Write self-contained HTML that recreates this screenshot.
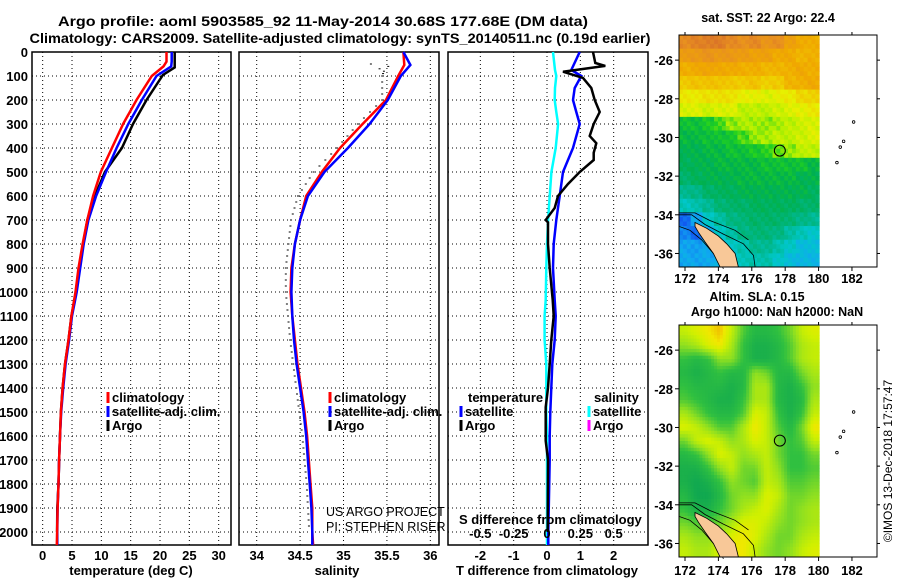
<!DOCTYPE html>
<html><head><meta charset="utf-8"><style>
body{margin:0;background:#fff}
svg{display:block;font-family:"Liberation Sans",Arial,sans-serif}
.b{font-weight:bold}
</style></head><body>
<svg id="s" width="900" height="580" viewBox="0 0 900 580" xmlns="http://www.w3.org/2000/svg">
<rect width="900" height="580" fill="#fff"/>
<text class="b" x="323" y="26" font-size="14" text-anchor="middle" textLength="530" lengthAdjust="spacingAndGlyphs">Argo profile: aoml 5903585_92 11-May-2014 30.68S 177.68E (DM data)</text>
<text class="b" x="340" y="43" font-size="14" text-anchor="middle" textLength="621" lengthAdjust="spacingAndGlyphs">Climatology: CARS2009. Satellite-adjusted climatology: synTS_20140511.nc (0.19d earlier)</text>
<g id="g"></g>
</svg>
<script>
// ---------- data ----------
const tDepth   = [0,40,60,100,200,300,400,500,600,700,800,900,1000,1100,1200,1300,1400,1500,1600,1700,1800,1900,2000,2054];
const tClim    = [21.1,21.1,20.6,18.6,16.0,13.7,11.8,9.9,8.6,7.6,6.8,6.1,5.6,4.9,4.4,3.8,3.4,3.1,2.95,2.8,2.7,2.55,2.45,2.4];
const tSat     = [22.0,22.0,21.9,19.4,16.9,14.6,12.6,10.8,9.1,7.8,7.0,6.4,5.8,5.0,4.5,3.9,3.5,3.15,2.95,2.8,2.7,2.55,2.5,2.5];
const tArgoDepth = [0,64,96,200,300,400,500,600,700,800,900,1000,1100,1200,1300,1400,1500,1600,1700,1800,1900,2000];
const tArgo    = [22.5,22.5,20.5,17.7,15.4,13.5,10.6,8.9,7.6,6.9,6.2,5.7,4.9,4.4,3.8,3.4,3.1,2.95,2.8,2.7,2.5,2.45];

const sDepth   = [0,54,100,200,300,400,500,600,700,800,900,1000,1100,1200,1300,1400,1500,1600,1700,1800,1900,2000,2054];
const sClim    = [35.69,35.70,35.63,35.49,35.22,34.96,34.75,34.57,34.50,34.44,34.40,34.39,34.41,34.44,34.47,34.51,34.55,34.58,34.60,34.62,34.64,34.64,34.65];
const sSat     = [35.69,35.77,35.66,35.51,35.30,35.05,34.78,34.59,34.50,34.44,34.41,34.40,34.41,34.43,34.46,34.50,34.54,34.57,34.59,34.61,34.63,34.64,34.64];
const sArgoDepth = [50,60,70,80,100,200,300,400,500,600,700,800,900,1000,1200,1400,1600,1800,2000];
const sArgo    = [35.35,35.55,35.45,35.50,35.48,35.48,35.20,34.96,34.69,34.51,34.43,34.40,34.37,34.37,34.42,34.49,34.56,34.61,34.64];

const dDepth   = [0,46,58,82,108,150,200,250,300,350,380,420,450,500,550,600,650,700,710,800,900,1033,1100,1200,1300,1400,1480,1620,1700,2000];
const dTArgo   = [1.38,1.45,1.75,0.48,1.08,1.33,1.43,1.58,1.40,1.28,1.48,1.40,1.40,0.98,0.63,0.33,0.23,-0.04,0.03,0.03,0.08,0.17,0.20,0.13,0.08,0.03,-0.04,-0.04,0.03,0.02];
const satDepth = [0,75,100,150,200,250,300,400,500,600,700,800,900,1033,1100,1200,1300,1400,1500,1600,1700,2000,2054];
const dTSat    = [0.98,0.73,1.03,0.83,0.78,0.88,0.98,0.78,0.48,0.38,0.28,0.20,0.18,0.23,0.26,0.23,0.16,0.13,0.10,0.08,0.08,0.04,0.04];
const dSSat    = [0.045,0.06,0.07,0.06,0.058,0.07,0.083,0.065,0.033,0.02,0.008,0,-0.005,-0.01,-0.018,-0.018,-0.005,-0.005,-0.005,0,0,0,0];

const depthTicks = [0,100,200,300,400,500,600,700,800,900,1000,1100,1200,1300,1400,1500,1600,1700,1800,1900,2000];
const tTicks = [0,5,10,15,20,25,30];
const sTicks = [34,34.5,35,35.5,36];
const sTickLabels = ["34","34.5","35","35.5","36"];
const dTicks = [-2,-1,0,1,2];
const dsTickLabels = ["-0.5","-0.25","0","0.25","0.5"];

const sstGrid = [
[24.6,24.7,24.8,24.8,24.6,24.5,24.6,24.4,24.5,24.1,23.9,23.8],
[24.2,24.3,24.4,24.3,24.3,24.2,24.1,24.1,23.9,23.9,23.7,23.8],
[23.8,23.9,24.0,23.9,23.9,23.8,23.8,23.7,23.7,23.8,23.9,23.8],
[23.4,23.5,23.5,23.5,23.4,23.4,23.5,23.3,23.4,23.7,23.8,23.9],
[23.0,23.0,23.1,23.1,23.1,22.9,22.9,22.8,22.9,23.0,23.2,23.3],
[22.8,22.8,22.7,22.8,22.8,22.6,22.6,22.6,22.7,22.8,22.9,23.0],
[21.9,21.9,22.0,22.2,22.4,22.5,22.5,22.4,22.5,22.6,22.7,22.8],
[21.8,21.8,21.9,21.9,22.0,22.2,22.4,22.5,22.6,22.6,22.7,22.8],
[21.7,21.7,21.8,21.8,21.9,21.9,22.0,22.1,22.3,22.4,22.6,22.6],
[21.6,21.7,21.7,21.8,21.8,21.8,21.8,21.9,21.9,21.9,21.9,21.8],
[21.5,21.6,21.7,21.7,21.7,21.8,21.8,21.8,21.8,21.8,21.7,21.7],
[21.2,21.3,21.5,21.6,21.6,21.7,21.7,21.7,21.7,21.7,21.7,21.6],
[20.9,21.0,21.2,21.4,21.5,21.5,21.6,21.6,21.6,21.6,21.5,21.5],
[19.8,20.3,20.8,21.1,21.3,21.4,21.5,21.5,21.5,21.4,21.3,21.2],
[20.0,19.8,20.4,20.8,21.1,21.3,21.4,21.4,21.3,21.1,20.9,20.8],
[20.3,20.2,20.4,20.6,20.8,21.0,21.2,21.2,21.0,20.8,20.6,20.6],
[20.3,20.3,20.3,20.5,20.7,20.9,21.0,21.0,20.8,20.6,20.5,20.5]];
const slaGrid = [
[0.8,0.9,1.0,1.1,0.8,0.4,0.2,0.2,0.3,0.5,0.8,0.9],
[0.6,0.7,0.9,1.0,0.7,0.3,0.1,0.1,0.2,0.4,0.7,0.8],
[0.3,0.2,0.3,0.6,0.6,0.3,0.1,0.1,0.2,0.4,0.7,0.8],
[0.2,0.1,0.2,0.3,0.2,0.2,0.6,0.5,0.2,0.2,0.5,0.7],
[0.3,0.2,0.2,0.2,0.1,0.2,0.7,0.7,0.2,0.1,0.3,0.6],
[0.4,0.3,0.2,0.1,0.1,0.3,0.7,0.7,0.2,0.1,0.2,0.7],
[0.7,0.5,0.3,0.2,0.2,0.4,0.9,0.8,0.3,0.1,0.3,0.8],
[0.9,0.8,0.6,0.4,0.4,0.7,1.0,0.8,0.4,0.2,0.5,1.0],
[0.5,0.8,0.9,0.8,0.6,0.7,0.9,0.8,0.5,0.3,0.4,0.8],
[0.2,0.3,0.6,0.9,0.8,0.6,0.7,0.8,0.5,0.3,0.3,0.5],
[0.1,0.1,0.3,0.6,0.8,0.5,0.5,0.8,0.6,0.3,0.3,0.4],
[0.1,0.0,0.1,0.3,0.6,0.5,0.4,0.8,0.7,0.4,0.4,0.5],
[0.2,0.0,0.0,0.2,0.5,0.6,0.6,0.9,0.8,0.5,0.5,0.6],
[0.3,0.1,0.1,0.3,0.5,0.7,0.8,0.9,0.7,0.5,0.6,0.7],
[0.5,0.4,0.4,0.5,0.7,0.9,0.9,0.8,0.6,0.5,0.6,0.7],
[0.7,0.6,0.6,0.7,0.9,1.0,0.9,0.7,0.5,0.5,0.7,0.8],
[0.8,0.7,0.7,0.9,1.0,1.0,0.8,0.6,0.5,0.6,0.8,0.9]];
const lonTicks = [172,174,176,178,180,182];
const latTicks = [-26,-28,-30,-32,-34,-36];
const argoLon = 177.68, argoLat = -30.68;

// ---------- drawing ----------
const NS='http://www.w3.org/2000/svg';
const G=document.getElementById('g');
function el(tag,attrs,parent,txt){const e=document.createElementNS(NS,tag);for(const k in attrs)e.setAttribute(k,attrs[k]);if(txt!==undefined)e.textContent=txt;(parent||G).appendChild(e);return e;}
const Y0=52,YS=0.24;
const yD=d=>Y0+d*YS;
const panels=[
 {name:'temperature',x0:32,x1:231,v0:-1.82,v1:32.1},
 {name:'salinity',x0:239,x1:439,v0:33.796,v1:36.10},
 {name:'difference',x0:448,x1:648,v0:-2.97,v1:3.03}];
function sx(p,v){return p.x0+(v-p.v0)/(p.v1-p.v0)*(p.x1-p.x0);}
const BOT=545;
function line(p,vals,depths,color,w,name,scale){
  const pts=vals.map((v,i)=>sx(p,v*(scale||1)).toFixed(1)+','+yD(depths[i]).toFixed(1)).join(' ');
  const e=el('polyline',{points:pts,fill:'none',stroke:color,'stroke-width':w,'stroke-linejoin':'miter'});
  
  
}
panels.forEach((p,pi)=>{
  const g=el('g',{});
  
  
  depthTicks.forEach(d=>{
    if(d>0){const l=el('line',{x1:p.x0,x2:p.x1,y1:yD(d),y2:yD(d),stroke:'#000','stroke-width':1,'stroke-dasharray':'1,3'},g);
    
    }
  });
  const ticks=pi===0?tTicks:pi===1?sTicks:dTicks;
  ticks.forEach((t,i)=>{
    const x=sx(p,t);
    const l=el('line',{x1:x,x2:x,y1:Y0,y2:BOT,stroke:'#000','stroke-width':1,'stroke-dasharray':'1,3'},g);
    
    
    const lab=pi===1?sTickLabels[i]:String(t);
    const tx=el('text',{x:x,y:560,'font-size':13,'text-anchor':'middle',class:'b'},g,lab);
    
    
  });
  const r=el('rect',{x:p.x0,y:Y0,width:p.x1-p.x0,height:BOT-Y0,fill:'none',stroke:'#000','stroke-width':1.5},g);
  
  
});
depthTicks.forEach(d=>{
  const t=el('text',{x:28,y:yD(d)+5,'font-size':13,'text-anchor':'end',class:'b'},G,String(d));
  
  
});
const P1=panels[0],P2=panels[1],P3=panels[2];
line(P1,tArgo,tArgoDepth,'#000',2.5,'temperature-argo-line');
line(P1,tSat,tDepth,'#0000ff',2.5,'temperature-satellite-line');
line(P1,tClim,tDepth,'#ff0000',2.5,'temperature-climatology-line');
line(P2,sClim,sDepth,'#ff0000',2.5,'salinity-climatology-line');
line(P2,sSat,sDepth,'#0000ff',2.5,'salinity-satellite-line');
{
  for(let i=0;i<sArgo.length-1;i++){
    const d0=sArgoDepth[i],d1=sArgoDepth[i+1];
    const step=d0<100?10:25;
    for(let d=d0;d<d1;d+=step){
      const v=sArgo[i]+(sArgo[i+1]-sArgo[i])*(d-d0)/(d1-d0);
      const x=sx(P2,v);
      const m=el('rect',{x:x-4,y:yD(d)-0.5,width:2,height:1,fill:'#000'});
      
      
    }
  }
}
line(P3,dSSat,satDepth,'#00ffff',2.5,'salinity-satellite-difference-line',4);
line(P3,dTSat,satDepth,'#0000ff',2.5,'temperature-satellite-difference-line');
line(P3,dTArgo,dDepth,'#000',2.5,'temperature-argo-difference-line');

function txt(x,y,s,size,name,opts){const t=el('text',Object.assign({x:x,y:y,'font-size':size},opts||{}),G,s);return t;}
txt(131,575,'temperature (deg C)',13,'x-axis-title-temperature',{class:'b','text-anchor':'middle'});
txt(337,575,'salinity',13,'x-axis-title-salinity',{class:'b','text-anchor':'middle'});
txt(547,575,'T difference from climatology',13,'x-axis-title-t-difference',{class:'b','text-anchor':'middle'});
txt(459,524,'S difference from climatology',13,'s-axis-title',{class:'b'});
dsTickLabels.forEach((l,i)=>{txt(sx(P3,dTicks[i]),538,l,13,'s-tick-label',{class:'b','text-anchor':'middle'});});
function legend(x,y,color,label,name){
  const r=el('rect',{x:x-1.5,y:y-10,width:3,height:11,fill:color});
  
  
  txt(x+4,y,label,13,name,{class:'b'});
}
legend(108,402,'#ff0000','climatology','legend-temp-climatology');
legend(108,416,'#0000ff','satellite-adj. clim.','legend-temp-satellite');
legend(108,430,'#000','Argo','legend-temp-argo');
legend(330,402,'#ff0000','climatology','legend-sal-climatology');
legend(330,416,'#0000ff','satellite-adj. clim.','legend-sal-satellite');
legend(330,430,'#000','Argo','legend-sal-argo');
txt(468,402,'temperature',13,'legend-temperature-heading',{class:'b'});
legend(461,416,'#0000ff','satellite','legend-diff-temp-satellite');
legend(461,430,'#000','Argo','legend-diff-temp-argo');
txt(594,402,'salinity',13,'legend-salinity-heading',{class:'b'});
legend(589,416,'#00ffff','satellite','legend-diff-sal-satellite');
legend(589,430,'#ff00ff','Argo','legend-diff-sal-argo');
txt(326,516,'US ARGO PROJECT',12.5,'credit-project');
txt(326,531,'PI: STEPHEN RISER',12.5,'credit-pi');

// ---------- maps ----------
function lerpC(stops,v){
  if(v<=stops[0][0])return stops[0][1];
  for(let i=1;i<stops.length;i++){if(v<=stops[i][0]){const a=stops[i-1],b=stops[i];const f=(v-a[0])/(b[0]-a[0]);
    const c1=a[1],c2=b[1];return c1.map((c,j)=>Math.round(c+(c2[j]-c)*f));}}
  return stops[stops.length-1][1];
}
const sstStops=[[19.6,[16,80,240]],[20.3,[16,168,240]],[20.8,[0,200,200]],[21.2,[0,184,144]],[21.7,[0,176,80]],[22.1,[32,208,32]],[22.5,[176,240,0]],[22.9,[232,240,0]],[23.4,[240,200,0]],[23.9,[240,168,0]],[24.5,[232,144,32]],[25,[216,112,40]]];
const slaStops=[[0,[16,168,80]],[0.3,[48,192,64]],[0.6,[144,224,32]],[0.85,[208,240,0]],[1.0,[240,232,0]],[1.1,[240,192,0]]];
function drawMap(top,bottom,latTop,latBot,grid,stops,smooth,name,yLabelY){
  const L=679,R=877,lonL=171.64,lonR=183.5;
  const lx=lon=>L+(lon-lonL)/(lonR-lonL)*(R-L);
  const ly=lat=>top+(latTop-lat)/(latTop-latBot)*(bottom-top);
  const g=el('g',{});
  
  
  const dataR=lx(180.04);
  const rows=grid.length,cols=grid[0].length;
  const sub=smooth?4:3;
  const cw=(dataR-L)/(cols*sub),ch=(bottom-top)/(rows*sub);
  for(let r=0;r<rows*sub;r++)for(let c=0;c<cols*sub;c++){
    let v;
    if(smooth){
      const fr=Math.min(rows-1,Math.max(0,(r+0.5)/sub-0.5)),fc=Math.min(cols-1,Math.max(0,(c+0.5)/sub-0.5));
      const r0=Math.floor(fr),c0=Math.floor(fc),r1=Math.min(rows-1,r0+1),c1=Math.min(cols-1,c0+1);
      const a=fr-r0,b=fc-c0;
      v=grid[r0][c0]*(1-a)*(1-b)+grid[r0][c1]*(1-a)*b+grid[r1][c0]*a*(1-b)+grid[r1][c1]*a*b;
    } else {
      v=grid[Math.floor(r/sub)][Math.floor(c/sub)]+(((r*7+c*13)%5)-2)*0.06;
    }
    const col=lerpC(stops,v);
    el('rect',{x:(L+c*cw).toFixed(2),y:(top+r*ch).toFixed(2),width:(cw+0.4).toFixed(2),height:(ch+0.4).toFixed(2),fill:'rgb('+col.join(',')+')'},g);
  }
  const pt=a=>a.map(p=>lx(p[0]).toFixed(1)+','+ly(p[1]).toFixed(1)).join(' ');
  el('polyline',{points:pt([[171.64,-34.6],[172.3,-34.8],[173.0,-35.3],[173.6,-35.9],[174.1,-36.4],[174.3,-36.8]]),fill:'none',stroke:'#000','stroke-width':0.8},g);
  el('polyline',{points:pt([[171.64,-34.0],[172.4,-34.0],[173.2,-34.5],[174.3,-35.0],[175.5,-35.5],[176.1,-36.1],[176.2,-36.7]]),fill:'none',stroke:'#000','stroke-width':0.8},g);
  el('polyline',{points:pt([[171.64,-33.9],[172.6,-33.9],[173.5,-34.3],[175,-34.8],[175.8,-35.3]]),fill:'none',stroke:'#000','stroke-width':0.8},g);
  const land=el('polygon',{points:pt([[172.6,-34.4],[173.3,-34.7],[174.0,-35.1],[174.5,-35.5],[175.0,-36.0],[175.2,-36.7],[174.1,-36.7],[173.7,-36.0],[173.2,-35.4],[172.8,-34.9],[172.6,-34.6]]),fill:'#f8c898',stroke:'#000','stroke-width':0.8},g);
  
  
  [[182.1,-29.2],[181.5,-30.2],[181.3,-30.5],[181.1,-31.3]].forEach(p=>el('circle',{cx:lx(p[0]),cy:ly(p[1]),r:1.3,fill:'none',stroke:'#000','stroke-width':0.8},g));
  const mk=el('circle',{cx:lx(argoLon),cy:ly(argoLat),r:5.5,fill:'none',stroke:'#000','stroke-width':1},g);
  
  
  el('rect',{x:L,y:top,width:R-L,height:bottom-top,fill:'none',stroke:'#000','stroke-width':1},g);
  lonTicks.forEach(l=>{const x=lx(l);el('line',{x1:x,x2:x,y1:bottom,y2:bottom+4,stroke:'#000'},g);el('line',{x1:x,x2:x,y1:top,y2:top-3,stroke:'#000'},g);
    const t=el('text',{x:x,y:yLabelY,'font-size':13,'text-anchor':'middle',class:'b'},g,String(l));
    
    });
  latTicks.forEach(l=>{const y=ly(l);el('line',{x1:L,x2:L-4,y1:y,y2:y,stroke:'#000'},g);el('line',{x1:R,x2:R+3,y1:y,y2:y,stroke:'#000'},g);
    const t=el('text',{x:673,y:y+5,'font-size':13,'text-anchor':'end',class:'b'},g,String(l));
    
    });
}
drawMap(35,267,-24.7,-36.7,sstGrid,sstStops,false,'sst-map',283);
drawMap(325,557,-24.7,-36.7,slaGrid,slaStops,true,'sla-map',575);
txt(768,22,'sat. SST: 22 Argo: 22.4',12.5,'sst-map-title',{class:'b','text-anchor':'middle'});
txt(757,301,'Altim. SLA: 0.15',12.5,'sla-map-title',{class:'b','text-anchor':'middle'});
txt(777,316,'Argo h1000: NaN h2000: NaN',12.5,'sla-map-subtitle',{class:'b','text-anchor':'middle'});
txt(0,0,'\u00a9IMOS 13-Dec-2018 17:57:47',12,'copyright-text',{transform:'translate(892,461) rotate(-90)','text-anchor':'middle'});
</script>
</body></html>
